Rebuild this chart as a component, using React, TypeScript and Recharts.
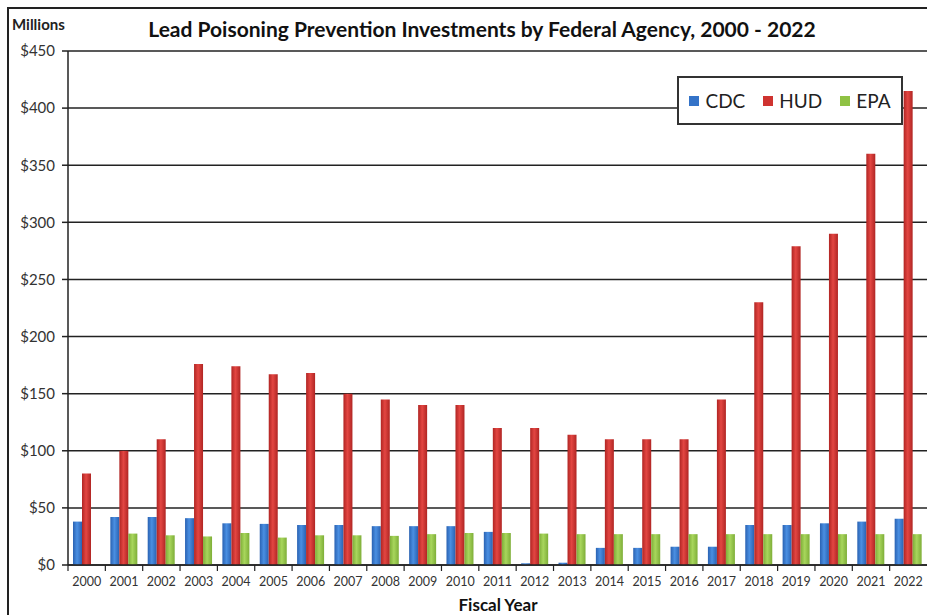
import { BarChart, Bar, XAxis, YAxis, CartesianGrid } from "recharts";

const years = [
  "2000", "2001", "2002", "2003", "2004", "2005", "2006", "2007", "2008", "2009", "2010", "2011",
  "2012", "2013", "2014", "2015", "2016", "2017", "2018", "2019", "2020", "2021", "2022",
];
const cdc = [38, 42, 42, 41, 36.5, 36, 35, 35, 34, 34, 34, 29, 1.5, 2, 15, 15, 16, 16, 35, 35, 36.5, 38, 40.5];
const hud = [80, 100, 110, 176, 174, 167, 168, 150, 145, 140, 140, 120, 120, 114, 110, 110, 110, 145, 230, 279, 290, 360, 415];
const epa = [0, 27.5, 26, 25, 28, 24, 26, 26, 25.5, 27, 28, 28, 27.5, 27, 27, 27, 27, 27, 27, 27, 27, 27, 27];
const yTicks = [0, 50, 100, 150, 200, 250, 300, 350, 400, 450];

const series = [
  { key: "CDC", values: cdc, edge: "#2a62b2", mid: "#4a8fe2", swatch: "#3473c8" },
  { key: "HUD", values: hud, edge: "#b02523", mid: "#e34642", swatch: "#cf3330" },
  { key: "EPA", values: epa, edge: "#7eae38", mid: "#a8d65c", swatch: "#8fc244" },
];

const data = years.map((year, i) => ({
  year,
  CDC: cdc[i],
  HUD: hud[i],
  EPA: epa[i],
}));

const W = 927;
const H = 615;
const AXIS_W = 68;
const BAND = (W - AXIS_W) / years.length;
const FONT = "Lato, 'Open Sans', sans-serif";

function YearTick(props: any) {
  const { x, y, payload } = props;
  return (
    <g>
      <line x1={x - BAND / 2} x2={x - BAND / 2} y1={y - 8} y2={y - 2} stroke="#222" strokeWidth={1.2} />
      <text x={x} y={y + 13} textAnchor="middle" fontSize={12.5} fill="#333" fontFamily={FONT}>
        {payload.value}
      </text>
    </g>
  );
}

function LegendBox() {
  return (
    <div
      style={{
        position: "absolute",
        left: 677,
        top: 76,
        width: 226,
        boxSizing: "border-box",
        display: "flex",
        alignItems: "center",
        justifyContent: "center",
        gap: 18,
        height: 49,
        border: "2px solid #333",
        background: "#fff",
        fontFamily: FONT,
        fontSize: 19,
        color: "#222",
      }}
    >
      {series.map((s) => (
        <span key={s.key} style={{ display: "flex", alignItems: "center", gap: 6 }}>
          <span style={{ width: 10, height: 10, background: s.swatch, display: "inline-block" }} />
          {s.key}
        </span>
      ))}
    </div>
  );
}

export default function App() {
  return (
    <div style={{ position: "absolute", left: 0, top: 0, width: W, height: H, background: "#fff", overflow: "hidden" }}>
      <div
        style={{
          position: "absolute",
          left: 7,
          top: 7,
          width: W,
          height: H,
          borderLeft: "2px solid #222",
          borderTop: "2px solid #222",
        }}
      />
      <div style={{ position: "absolute", left: 12, top: 15, fontFamily: FONT, fontWeight: 700, fontSize: 15, color: "#222" }}>
        Millions
      </div>
      <div
        style={{
          position: "absolute",
          left: 0,
          width: 964,
          top: 16,
          textAlign: "center",
          fontFamily: FONT,
          fontWeight: 700,
          fontSize: 21,
          color: "#111",
        }}
      >
        Lead Poisoning Prevention Investments by Federal Agency, 2000 - 2022
      </div>
      <div
        style={{
          position: "absolute",
          left: 0,
          width: 996,
          top: 594,
          textAlign: "center",
          fontFamily: FONT,
          fontWeight: 700,
          fontSize: 17,
          color: "#111",
        }}
      >
        Fiscal Year
      </div>
      <BarChart
        width={W}
        height={H}
        data={data}
        margin={{ top: 51, right: 0, bottom: 0, left: 0 }}
        barGap={0}
        barSize={9}
        style={{ position: "absolute", left: 0, top: 0 }}
      >
        <defs>
          {series.map((s) => (
            <linearGradient key={s.key} id={`grad-${s.key}`} x1="0" y1="0" x2="1" y2="0">
              <stop offset="0%" stopColor={s.edge} />
              <stop offset="45%" stopColor={s.mid} />
              <stop offset="100%" stopColor={s.edge} />
            </linearGradient>
          ))}
        </defs>
        <CartesianGrid vertical={false} stroke="#222" strokeWidth={1.5} />
        <XAxis
          dataKey="year"
          height={50}
          tick={<YearTick />}
          tickLine={false}
          axisLine={{ stroke: "#222", strokeWidth: 1.5 }}
          interval={0}
        />
        <YAxis
          width={AXIS_W}
          domain={[0, 450]}
          ticks={yTicks}
          interval={0}
          tickFormatter={(v) => `$${v}`}
          tick={{ fontSize: 15, fill: "#333", fontFamily: FONT }}
          tickMargin={7}
          tickLine={{ stroke: "#222", strokeWidth: 1.5 }}
          axisLine={{ stroke: "#222", strokeWidth: 1.5 }}
        />
        {series.map((s) => (
          <Bar key={s.key} dataKey={s.key} fill={`url(#grad-${s.key})`} isAnimationActive={false} />
        ))}
      </BarChart>
      <LegendBox />
    </div>
  );
}
